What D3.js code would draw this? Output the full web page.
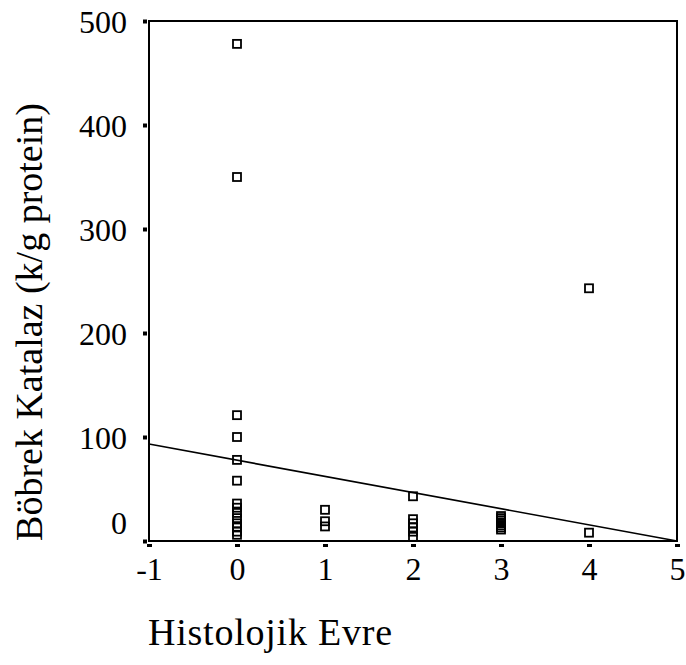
<!DOCTYPE html>
<html lang="tr">
<head>
  <meta charset="UTF-8">
  <title>Böbrek Katalaz</title>
  <script src="https://d3js.org/d3.v7.min.js"></script>
  <style type="text/css">
    body { margin: 0; background: #fff; }
    text { font-family: "Liberation Serif", "Times New Roman", serif; fill: #000; }
    .tick text { font-size: 32px; }
    .title { font-size: 38px; }
    .pt { fill: none; stroke: #000; stroke-width: 1.8; }
    .fit { fill: none; stroke: #000; stroke-width: 1.6; }
  </style>
</head>
<body>
<script>
  // Histolojik evre (x) ve böbrek katalaz (y) degerleri
  var stageX = [0, 0, 0, 0, 0, 0, 0, 0, 0, 0, 0, 0, 0, 0,
                1, 1, 1,
                2, 2, 2, 2, 2, 2,
                3, 3, 3, 3, 3, 3, 3, 3,
                4, 4];
  var catalaseY = [478, 350, 121, 100, 78, 58, 36, 32, 27, 22, 17, 13, 9, 6,
                   30, 19, 14,
                   43, 21, 17, 13, 9, 4,
                   24, 22, 20, 18, 17, 15, 13, 11,
                   243, 8];

  // regresyon dogrusu (kesisim, egim)
  var fitIntercept = 77.7;
  var fitSlope = -15.55;

  var xTicks = [-1, 0, 1, 2, 3, 4, 5];
  var yTicks = [0, 100, 200, 300, 400, 500];

  var margin = {top: 21, right: 9, bottom: 124, left: 149}
    , W = 686, H = 665
    , width = W - margin.left - margin.right
    , height = H - margin.top - margin.bottom;

  var xScale = d3.scaleLinear().domain([-1, 5]).range([0, width]);
  var yScale = d3.scaleLinear().domain([0, 500]).range([height, 0]);

  var svg = d3.select("body").append("svg")
    .attr("width", W)
    .attr("height", H)
    .append("g")
    .attr("transform", "translate(" + margin.left + "," + margin.top + ")");

  // frame
  svg.append("rect")
    .attr("x", 0).attr("y", 0)
    .attr("width", width).attr("height", height)
    .attr("fill", "none")
    .attr("stroke", "#000")
    .attr("stroke-width", 2);

  var xAxis = svg.append("g")
    .attr("transform", "translate(0," + height + ")")
    .call(d3.axisBottom(xScale).tickValues(xTicks).tickFormat(function(d) { return String(d); }).tickSize(6).tickPadding(10));
  xAxis.select(".domain").remove();
  xAxis.selectAll(".tick line").attr("y1", 3).attr("y2", 6).attr("stroke-width", 5);
  xAxis.selectAll(".tick text").attr("dy", "0.71em").attr("font-size", 32);

  var yAxis = svg.append("g")
    .call(d3.axisLeft(yScale).tickValues(yTicks).tickFormat(function(d) { return String(d); }).tickSize(6).tickPadding(16));
  yAxis.select(".domain").remove();
  yAxis.selectAll(".tick line").attr("x1", -2).attr("x2", -6).attr("stroke-width", 4);
  yAxis.selectAll(".tick text").attr("font-size", 32)
    .attr("dy", function(d) { return d === 0 ? "-0.25em" : "0.35em"; });

  // regression line
  svg.append("line")
    .attr("class", "fit")
    .attr("x1", xScale(-1)).attr("y1", yScale(fitIntercept + fitSlope * -1))
    .attr("x2", xScale(5)).attr("y2", yScale(fitIntercept + fitSlope * 5));

  var s = 8;
  svg.selectAll(".pt")
    .data(stageX)
    .enter().append("rect")
    .attr("class", "pt")
    .attr("x", function(d) { return xScale(d) - s / 2; })
    .attr("y", function(d, i) { return yScale(catalaseY[i]) - s / 2; })
    .attr("width", s)
    .attr("height", s)
    .attr("fill", "#fff");

  svg.append("text")
    .attr("class", "title")
    .attr("x", 270 - margin.left)
    .attr("y", 645 - margin.top)
    .attr("text-anchor", "middle")
    .attr("textLength", 244)
    .text("Histolojik Evre");

  svg.append("text")
    .attr("class", "title")
    .attr("transform", "translate(" + (42 - margin.left) + "," + (322 - margin.top) + ") rotate(-90)")
    .attr("text-anchor", "middle")
    .text("Böbrek Katalaz (k/g protein)");
</script>
</body>
</html>
